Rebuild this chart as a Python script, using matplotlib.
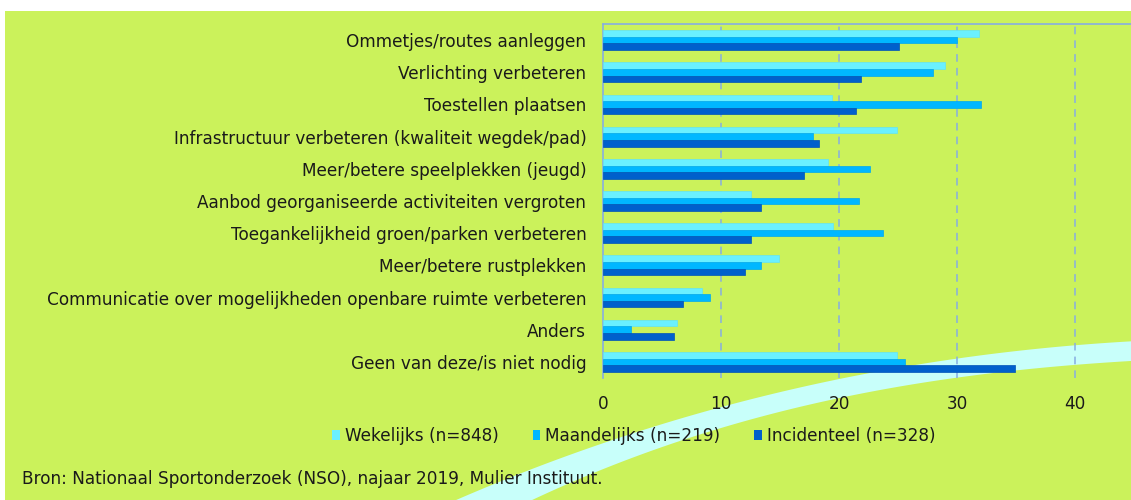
import matplotlib
matplotlib.use("Agg")
import matplotlib.pyplot as plt
import numpy as np
from matplotlib.patches import Polygon, Rectangle, Patch

categories = [
    "Ommetjes/routes aanleggen",
    "Verlichting verbeteren",
    "Toestellen plaatsen",
    "Infrastructuur verbeteren (kwaliteit wegdek/pad)",
    "Meer/betere speelplekken (jeugd)",
    "Aanbod georganiseerde activiteiten vergroten",
    "Toegankelijkheid groen/parken verbeteren",
    "Meer/betere rustplekken",
    "Communicatie over mogelijkheden openbare ruimte verbeteren",
    "Anders",
    "Geen van deze/is niet nodig",
]
wekelijks = [31.9, 29.0, 19.4, 24.9, 19.1, 12.5, 19.5, 14.9, 8.4, 6.3, 24.9]
maandelijks = [30.0, 28.0, 32.0, 17.8, 22.6, 21.7, 23.7, 13.4, 9.1, 2.4, 25.6]
incidenteel = [25.1, 21.9, 21.4, 18.3, 17.0, 13.4, 12.5, 12.0, 6.8, 6.0, 34.9]
series_labels = ["Wekelijks (n=848)", "Maandelijks (n=219)", "Incidenteel (n=328)"]
xticks = [0, 10, 20, 30, 40]
source = "Bron: Nationaal Sportonderzoek (NSO), najaar 2019, Mulier Instituut."

W, H = 1131, 500
GREEN = "#CBF25B"
COLORS = ["#6AF0FF", "#00B7FF", "#0060CC"]
EDGES = ["#62E4F4", "#00A8EE", "#0052B8"]
SWOOSH = "#C8FFFA"
LINE = "#86AEE2"
TXT = "#1A1A1A"
FS = 12.2

fig = plt.figure(figsize=(W / 100, H / 100), dpi=100, facecolor="white")

def fx(x):
    return x / W

def fy(y):
    return 1 - y / H

# green panel
fig.patches.append(Rectangle((fx(5), 0), 1 - fx(5), fy(11), transform=fig.transFigure,
                             facecolor=GREEN, edgecolor="none", zorder=0))

# decorative swoosh band (pixel guide points, y down)
up_x = [455, 505, 595, 650, 730, 800, 900, 1000, 1131]
up_y = [500, 480, 447, 427, 405, 387, 367, 354, 341]
lo_x = [532, 577, 662, 736, 805, 900, 1000, 1131]
lo_y = [500, 480, 447, 424, 405, 387, 372, 361]
cu = np.polyfit(up_x, up_y, 3)
cl = np.polyfit(lo_x, lo_y, 3)
xs_u = np.linspace(up_x[0] - 20, W + 5, 200)
xs_l = np.linspace(W + 5, lo_x[0] - 20, 200)
pts = [(fx(x), fy(np.polyval(cu, x))) for x in xs_u] + \
      [(fx(x), fy(np.polyval(cl, x))) for x in xs_l]
fig.patches.append(Polygon(pts, closed=True, transform=fig.transFigure,
                           facecolor=SWOOSH, edgecolor="none", zorder=1))
fig.patches[-1].set_clip_path(fig.patches[0])

ax_left, ax_right = 603, 1131
ax_top, ax_bot = 24, 378
ax = fig.add_axes([fx(ax_left), fy(ax_bot), fx(ax_right - ax_left), (ax_bot - ax_top) / H])
ax.set_facecolor("none")
ax.set_zorder(2)

n = len(categories)
y = np.arange(n)
h = 0.205
for i, (vals, c, e, lab) in enumerate(zip([wekelijks, maandelijks, incidenteel], COLORS, EDGES, series_labels)):
    ax.barh(y + (i - 1) * h, vals, height=h, color=c, edgecolor=e, linewidth=0.5,
            label=lab, zorder=3)

ax.set_ylim(n - 0.5, -0.5)
ax.set_xlim(0, (ax_right - ax_left) / 11.8)
ax.set_yticks(y)
ax.set_yticklabels(categories, fontsize=FS, color=TXT)
ax.set_xticks(xticks)
ax.set_xticklabels([str(t) for t in xticks], fontsize=FS, color=TXT)
ax.tick_params(axis="y", length=0, pad=12)
ax.tick_params(axis="x", length=0, pad=12)

for t in xticks[1:]:
    ax.axvline(t, color=LINE, lw=1.1, dashes=(5, 4), zorder=2)

for s in ["right", "bottom"]:
    ax.spines[s].set_visible(False)
for s in ["left", "top"]:
    ax.spines[s].set_color(LINE)
    ax.spines[s].set_linewidth(1.2)

handles = [Patch(facecolor=c, edgecolor="none") for c in COLORS]
fig.legend(handles, series_labels, loc="center", bbox_to_anchor=(fx(634), fy(436)),
           ncol=3, frameon=False, fontsize=FS, handlelength=0.45, handleheight=0.45,
           handletextpad=0.3, columnspacing=2.0, labelcolor=TXT)

fig.text(fx(22), fy(479), source, fontsize=FS, color=TXT, ha="left", va="center")

fig.savefig("out.png", dpi=100, facecolor=fig.get_facecolor())
